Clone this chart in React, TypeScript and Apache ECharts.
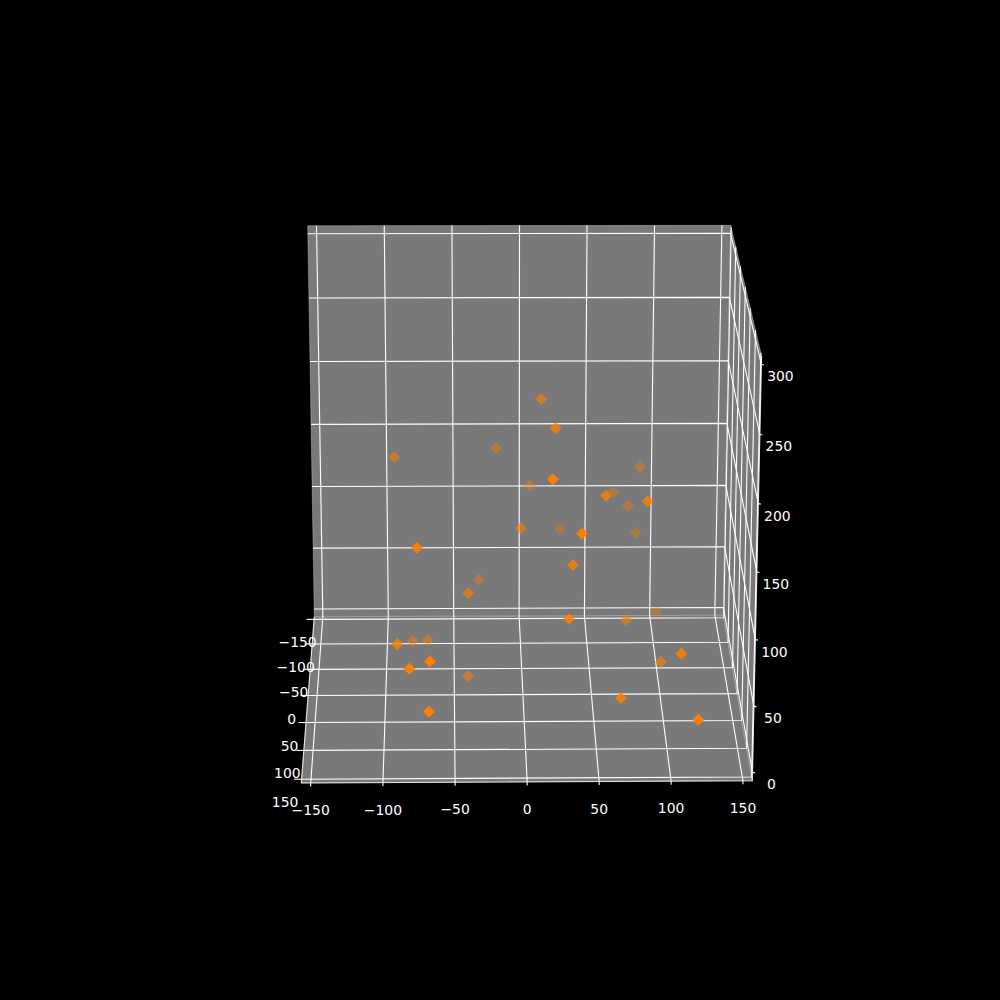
import React, { useEffect, useRef } from "react";
import * as echarts from "echarts";

// 3D data values
const xValues = [13.7, 22.8, 18.9, 7.1, 89.2, 58.3, 69, 79.9, 87.1, -1.2, 30, 39.4, 86.4, -18.2, -93.2, -75.9, 34.6, -31.4, -39.6, -90.5, -80.4, -69.4, -67, -81.3, -40, -67.9, 31.1, 75.1, 101.3, 99.2, 109.3, 67.5, 118.9];
const yValues = [-46.7, 9.7, 86.9, -107.5, -109.7, 26.9, -103.9, -100.2, 45.3, -32, -128.3, 83.9, -109.5, -101.1, -68.5, 67.7, 42.7, -84.9, -1.1, 57.9, -38.9, -38.7, 127, 128.3, -12.9, 138.7, 71.7, -7.2, -89.2, 19.8, 98.3, 91.6, 146.1];
const zValues = [206.8, 203.8, 193, 117.6, 131.7, 158.7, 113.5, 104.1, 161.1, 111.9, 75.4, 151.3, 79, 149.9, 154.6, 134.8, 111.8, 51.1, 73.2, 57.5, 20.5, 21.1, 72.4, 67.7, 3.1, 39.5, 81.9, 49.3, 23.1, 27.1, 65.8, 29.3, 35.7];

const xTicks = [-150, -100, -50, 0, 50, 100, 150];
const yTicks = [-150, -100, -50, 0, 50, 100, 150];
const zTicks = [0, 50, 100, 150, 200, 250, 300];

const xLim = [-156.5, 156.5];
const yLim = [-155.5, 156.5];
const zLim = [-6.4, 306.2];

// Camera: homogeneous projection of the unit box onto the page
const cam = {
  x: [314.3, 411.17, -41.11, -16.8],
  y: [616.7, 0.3, 93.25, -398.48],
  w: [1, 0.003, -0.0933, -0.03315],
};

const norm = (v: number, lim: number[]) => (v - lim[0]) / (lim[1] - lim[0]);
const dot = (c: number[], u: number, t: number, h: number) => c[0] + c[1] * u + c[2] * t + c[3] * h;
const projectUnit = (u: number, t: number, h: number): number[] => {
  const w = dot(cam.w, u, t, h);
  return [dot(cam.x, u, t, h) / w, dot(cam.y, u, t, h) / w];
};
const depthOf = (x: number, y: number, z: number) =>
  1 - dot(cam.w, norm(x, xLim), norm(y, yLim), norm(z, zLim));
const project = (x: number, y: number, z: number) =>
  projectUnit(norm(x, xLim), norm(y, yLim), norm(z, zLim));

const minus = (v: number) => (v < 0 ? "\u2212" + Math.abs(v) : String(v));

const PANE = "#797979";
const panes: number[][][] = [
  [projectUnit(0, 0, 0), projectUnit(1, 0, 0), projectUnit(1, 1, 0), projectUnit(0, 1, 0)],
  [projectUnit(0, 0, 0), projectUnit(1, 0, 0), projectUnit(1, 0, 1), projectUnit(0, 0, 1)],
  [projectUnit(1, 0, 0), projectUnit(1, 1, 0), projectUnit(1, 1, 1), projectUnit(1, 0, 1)],
];

const gridLines: number[][][] = [];
xTicks.forEach((v) => {
  const u = norm(v, xLim);
  gridLines.push([projectUnit(u, 1, 0), projectUnit(u, 0, 0), projectUnit(u, 0, 1)]);
});
yTicks.forEach((v) => {
  const t = norm(v, yLim);
  gridLines.push([projectUnit(0, t, 0), projectUnit(1, t, 0), projectUnit(1, t, 1)]);
});
zTicks.forEach((v) => {
  const h = norm(v, zLim);
  gridLines.push([projectUnit(0, 0, h), projectUnit(1, 0, h), projectUnit(1, 1, h)]);
});

const nudge = (p: number[], dx: number, dy: number) => [p[0] + dx, p[1] + dy];
const tickMarks: number[][][] = [];
xTicks.forEach((v) => {
  const p = projectUnit(norm(v, xLim), 1, 0);
  tickMarks.push([p, nudge(p, 0, 3.5)]);
});
yTicks.forEach((v) => {
  const p = projectUnit(0, norm(v, yLim), 0);
  tickMarks.push([p, nudge(p, -7.5, 0)]);
});
zTicks.forEach((v) => {
  const p = projectUnit(1, 1, norm(v, zLim));
  tickMarks.push([p, nudge(p, 2.5, 0.5)]);
});
const axisEdges: number[][][] = [
  [projectUnit(0, 0, 0), projectUnit(0, 1, 0), projectUnit(1, 1, 0), projectUnit(1, 1, 1)],
];

type Label = { p: number[]; text: string };
const labels: Label[] = [
  ...xTicks.map((v) => ({ p: nudge(projectUnit(norm(v, xLim), 1, 0), 0, 27), text: minus(v) })),
  ...yTicks.map((v) => ({ p: nudge(projectUnit(0, norm(v, yLim), 0), -16.5, 23), text: minus(v) })),
  ...zTicks.map((v) => ({ p: nudge(projectUnit(1, 1, norm(v, zLim)), 19, 12), text: minus(v) })),
];

const depths = xValues.map((x, i) => depthOf(x, yValues[i], zValues[i]));
const dMin = Math.min(...depths);
const dMax = Math.max(...depths);
const order = xValues.map((_, i) => i).sort((a, b) => depths[a] - depths[b]);

const polyRows = (n: number) => Array.from({ length: n }, (_, i) => [0, 0, i]);

export default function App() {
  const ref = useRef<HTMLDivElement>(null);
  useEffect(() => {
    if (!ref.current) return;
    const chart = echarts.init(ref.current, undefined, { renderer: "svg" });
    const coords = (api: any, pts: number[][]) => pts.map((p) => api.coord(p));
    const lineSeries = (name: string, list: number[][][], z: number, stroke: string, lineWidth: number) => ({
      name,
      type: "custom",
      coordinateSystem: "cartesian2d",
      silent: true,
      z,
      clip: false,
      data: polyRows(list.length),
      renderItem: (_: any, api: any) => ({
        type: "polyline",
        shape: { points: coords(api, list[api.value(2)]) },
        style: { stroke, lineWidth, fill: "none" },
      }),
    });
    chart.setOption({
      animation: false,
      backgroundColor: "#000000",
      tooltip: { show: false },
      grid: { left: 0, right: 0, top: 0, bottom: 0 },
      xAxis: { type: "value", min: 0, max: 1000, show: false },
      yAxis: { type: "value", min: 0, max: 1000, inverse: true, show: false },
      series: [
        {
          name: "panes",
          type: "custom",
          coordinateSystem: "cartesian2d",
          silent: true,
          z: 1,
          clip: false,
          data: polyRows(panes.length),
          renderItem: (_: any, api: any) => ({
            type: "polygon",
            shape: { points: coords(api, panes[api.value(2)]) },
            style: { fill: PANE, stroke: "rgba(255,255,255,0.3)", lineWidth: 1 },
          }),
        },
        lineSeries("grid", gridLines, 2, "#ffffff", 1.1),
        lineSeries("ticks", tickMarks, 3, "#ffffff", 1.1),
        lineSeries("edges", axisEdges, 3, "rgba(255,255,255,0.8)", 1.1),
        {
          name: "labels",
          type: "custom",
          coordinateSystem: "cartesian2d",
          silent: true,
          z: 4,
          clip: false,
          data: polyRows(labels.length),
          renderItem: (_: any, api: any) => {
            const l = labels[api.value(2)];
            const c = api.coord(l.p);
            return {
              type: "text",
              x: c[0],
              y: c[1],
              style: {
                text: l.text,
                fill: "#ffffff",
                font: '13.9px "DejaVu Sans"',
                textAlign: "center",
                textVerticalAlign: "middle",
                verticalAlign: "middle",
                align: "center",
              },
            };
          },
        },
        {
          name: "points",
          type: "scatter",
          symbol: "diamond",
          symbolSize: 12,
          z: 5,
          silent: true,
          clip: false,
          data: order.map((i) => ({
            value: project(xValues[i], yValues[i], zValues[i]),
            itemStyle: {
              color: "#ff7f00",
              opacity: 0.3 + (0.7 * (depths[i] - dMin)) / (dMax - dMin),
            },
          })),
        },
      ],
    });
    return () => chart.dispose();
  }, []);
  return (
    <div
      ref={ref}
      style={{ position: "absolute", left: 0, top: 0, width: 1000, height: 1000, background: "#000" }}
    />
  );
}
